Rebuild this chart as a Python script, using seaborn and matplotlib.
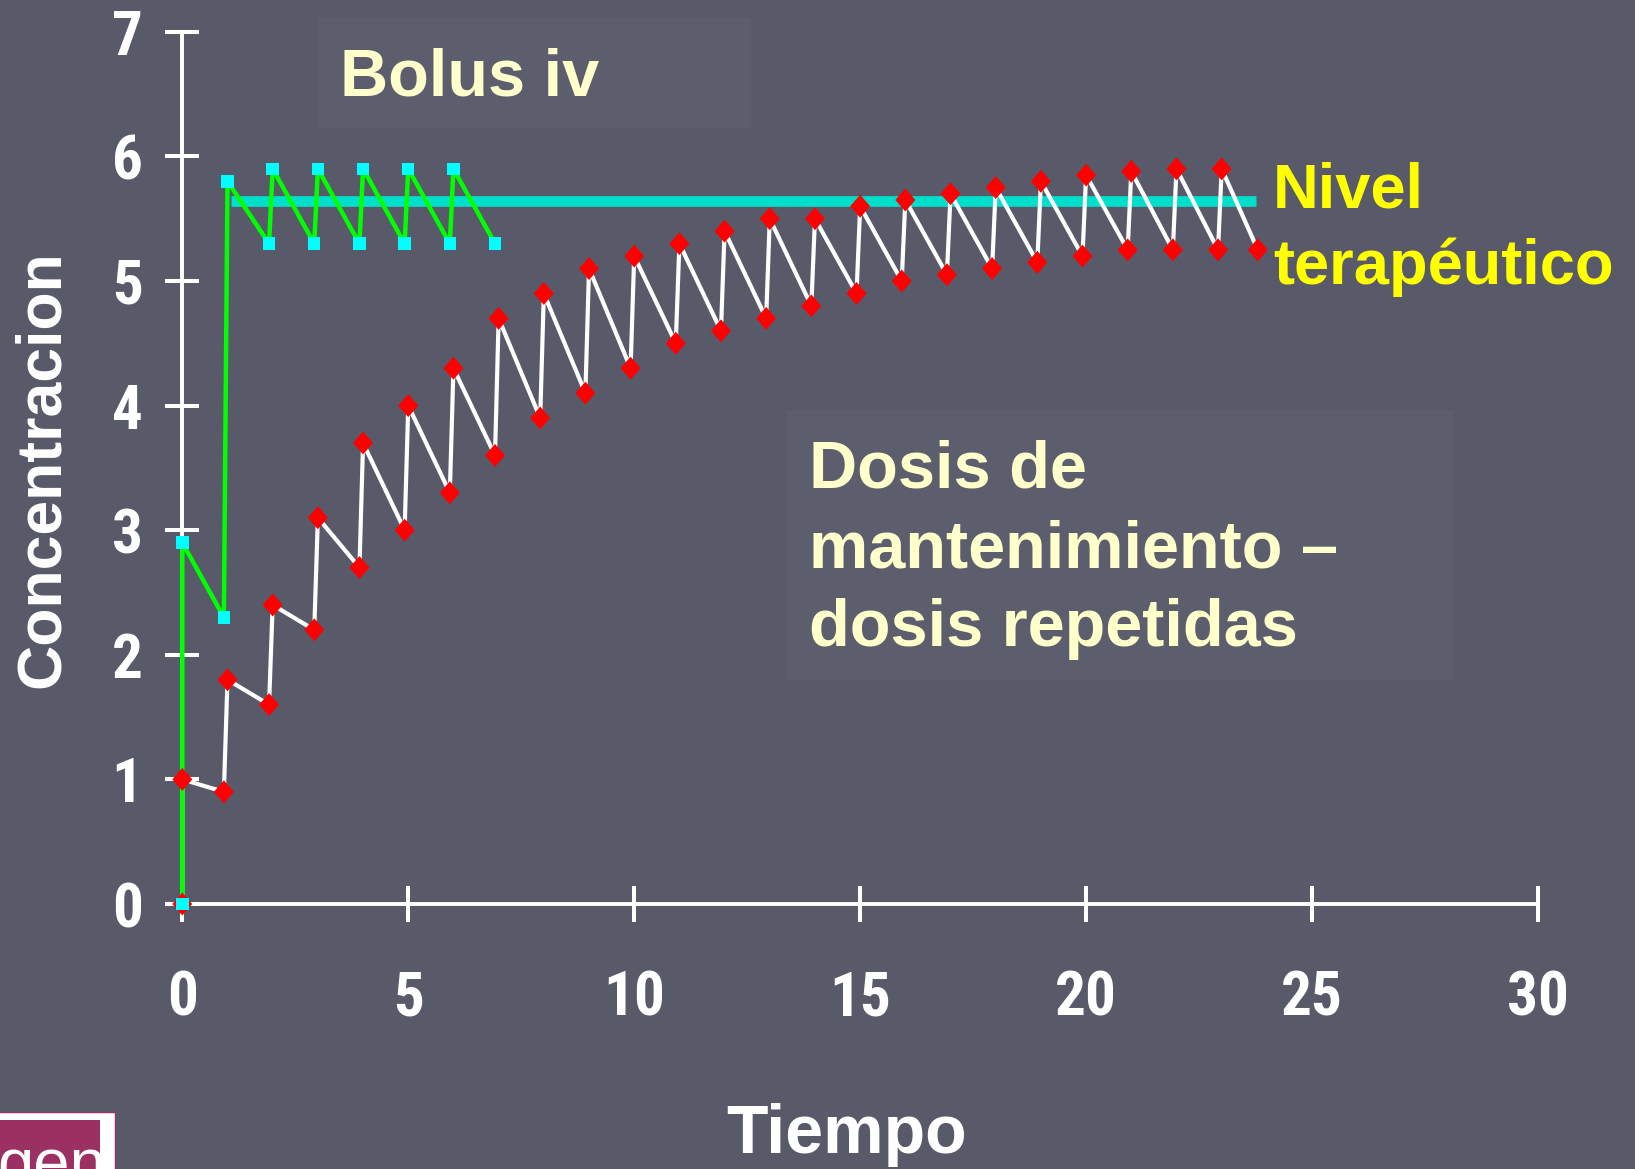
import matplotlib
matplotlib.use('Agg')
import matplotlib.pyplot as plt
import seaborn as sns
from matplotlib.patches import Rectangle
from matplotlib import font_manager

# ---------------- data ----------------
bolus_t = [0, 0, 0.92, 1, 1.92, 2, 2.92, 3, 3.92, 4, 4.92, 5, 5.92, 6, 6.92]
bolus_c = [0, 2.9, 2.3, 5.8, 5.3, 5.9, 5.3, 5.9, 5.3, 5.9, 5.3, 5.9, 5.3, 5.9, 5.3]

rep_t = [0, 0, 0.92, 1, 1.92, 2, 2.92, 3, 3.92, 4, 4.92, 5, 5.92, 6, 6.92, 7,
         7.92, 8, 8.92, 9, 9.92, 10, 10.92, 11, 11.92, 12, 12.92, 13, 13.92, 14,
         14.92, 15, 15.92, 16, 16.92, 17, 17.92, 18, 18.92, 19, 19.92, 20, 20.92,
         21, 21.92, 22, 22.92, 23, 23.8]
rep_c = [0, 1.0, 0.9, 1.8, 1.6, 2.4, 2.2, 3.1, 2.7, 3.7, 3.0, 4.0, 3.3, 4.3, 3.6, 4.7,
         3.9, 4.9, 4.1, 5.1, 4.3, 5.2, 4.5, 5.3, 4.6, 5.4, 4.7, 5.5, 4.8, 5.5,
         4.9, 5.6, 5.0, 5.65, 5.05, 5.7, 5.1, 5.75, 5.15, 5.8, 5.2, 5.85, 5.25,
         5.88, 5.25, 5.9, 5.25, 5.9, 5.25]

nivel_t = [1.08, 23.75]
nivel_c = [5.64, 5.64]

x_ticks = [0, 5, 10, 15, 20, 25, 30]
y_ticks = [0, 1, 2, 3, 4, 5, 6, 7]

# ---------------- style ----------------
sns.set_theme(style='white')
names = {f.name for f in font_manager.fontManager.ttflist}
WIDE = 'Liberation Sans'
NARROW = None
for cand in ['Liberation Sans Narrow', 'Arial Narrow', 'Roboto Condensed',
             'Open Sans Condensed', 'Noto Sans Condensed']:
    if cand in names:
        NARROW = cand
        break
TICK_FAMILY = [NARROW, WIDE] if NARROW else [WIDE]
TICK_SIZE = 44 if NARROW else 41
plt.rcParams['font.family'] = [WIDE, 'DejaVu Sans']

BG = '#585a69'
BOX = '#5d5e6d'

fig = plt.figure(figsize=(16.35, 11.69), dpi=100, facecolor=BG)

# background layer in pixel coordinates
bg = fig.add_axes([0, 0, 1, 1], zorder=0)
bg.set_xlim(0, 1635)
bg.set_ylim(1169, 0)
bg.axis('off')
bg.add_patch(Rectangle((318, 18), 433, 110, facecolor=BOX, edgecolor='none'))
bg.add_patch(Rectangle((787, 410), 666, 270, facecolor=BOX, edgecolor='none'))

# logo fragment bottom-left
bg.add_patch(Rectangle((-5, 1112), 120, 70, facecolor='white', edgecolor='#9b3163', lw=1))
inner = Rectangle((-5, 1120), 105, 60, facecolor='#9b3163', edgecolor='none')
bg.add_patch(inner)
t = bg.text(-3, 1184, 'gen', color='white', fontsize=47, family=WIDE,
            ha='left', va='baseline')
t.set_clip_path(inner)

bg.text(340, 96, 'Bolus iv', color='#ffffcc', fontsize=48, fontweight='bold',
        family=WIDE, ha='left', va='baseline')
bg.text(1273, 208, 'Nivel', color='#ffff00', fontsize=45.5, fontweight='bold',
        family=WIDE, ha='left', va='baseline')
bg.text(1273, 284, 'terapéutico', color='#ffff00', fontsize=45.5, fontweight='bold',
        family=WIDE, ha='left', va='baseline')
for txt, yb in [('Dosis de', 488), ('mantenimiento –', 567), ('dosis repetidas', 646)]:
    bg.text(809, yb, txt, color='#ffffcc', fontsize=48, fontweight='bold',
            family=WIDE, ha='left', va='baseline')

# main axes
L, R, B, T = 182.3, 1538.0, 904.0, 31.8
ax = fig.add_axes([L / 1635, 1 - B / 1169, (R - L) / 1635, (B - T) / 1169], zorder=1)
ax.set_facecolor('none')

diamond = [(0, -1.15), (1, 0), (0, 1.15), (-1, 0), (0, -1.15)]

sns.lineplot(x=nivel_t, y=nivel_c, color='#00dfcc', linewidth=7.7, ax=ax,
             solid_capstyle='butt', zorder=2)
sns.lineplot(x=rep_t, y=rep_c, sort=False, estimator=None, color='white', linewidth=3.0,
             ax=ax, zorder=3, clip_on=False)
sns.lineplot(x=bolus_t, y=bolus_c, sort=False, estimator=None, color='#00ff00',
             linewidth=3.2, ax=ax, zorder=4, clip_on=False)
sns.scatterplot(x=rep_t, y=rep_c, marker=diamond, s=275, color='#ff0000',
                edgecolor='none', linewidth=0, ax=ax, zorder=5, clip_on=False)
sns.scatterplot(x=bolus_t, y=bolus_c, marker='s', s=80, color='#00ffff',
                edgecolor='none', linewidth=0, ax=ax, zorder=6, clip_on=False)

ax.set_xlim(0, 30)
ax.set_ylim(0, 7)
ax.set_xticks(x_ticks)
ax.set_yticks(y_ticks)
ax.set_xticklabels([str(v) for v in x_ticks])
ax.set_yticklabels([str(v) for v in y_ticks])

for s in ['top', 'right']:
    ax.spines[s].set_visible(False)
for s in ['left', 'bottom']:
    ax.spines[s].set_color('white')
    ax.spines[s].set_linewidth(2.8)

ax.tick_params(axis='x', bottom=True, direction='inout', length=26, width=2.9,
               color='white', pad=33.8, labelsize=TICK_SIZE, labelcolor='white')
ax.tick_params(axis='y', left=True, direction='inout', length=23.8, width=2.9,
               color='white', pad=16.6, labelsize=TICK_SIZE, labelcolor='white')
for lab in ax.get_xticklabels() + ax.get_yticklabels():
    lab.set_fontfamily(TICK_FAMILY)
    lab.set_fontweight('bold')

ax.set_xlabel('Tiempo', color='white', fontsize=49, fontweight='bold', family=WIDE,
              va='baseline')
ax.xaxis.set_label_coords((847 - L) / (R - L), (B - 1153) / (B - T))
ax.set_ylabel('Concentracion', color='white', fontsize=45, fontweight='bold', family=WIDE,
              va='baseline')
ax.yaxis.set_label_coords((59 - L) / (R - L), (B - 469) / (B - T))

fig.savefig('out.png', dpi=100, facecolor=BG)
